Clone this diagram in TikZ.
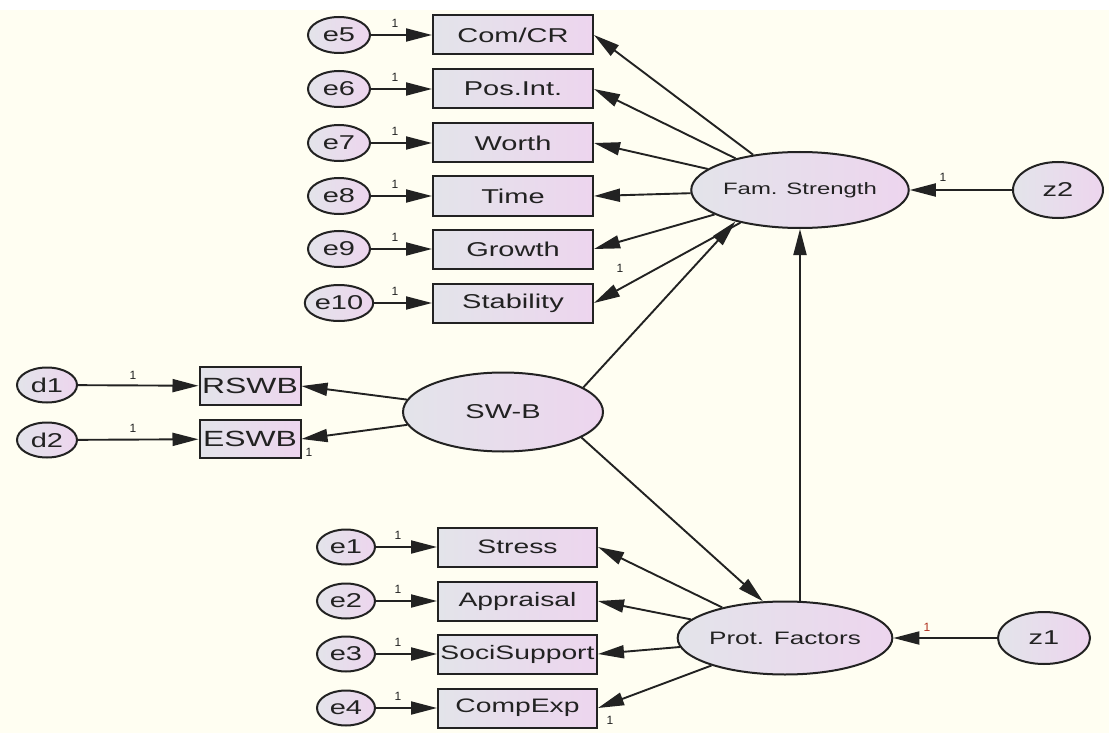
\documentclass[tikz,border=0pt]{standalone}
\usepackage{fontspec}
\setmainfont{Liberation Sans}
\usetikzlibrary{shapes.geometric,arrows.meta}
\definecolor{bg}{HTML}{FFFEF2}
\definecolor{fillL}{HTML}{E3E4EA}
\definecolor{fillR}{HTML}{EDD5EE}
\definecolor{ink}{HTML}{222222}
\definecolor{onered}{HTML}{B0301E}
\newcommand{\mylbl}[2]{\fontsize{#1}{#1}\selectfont\scalebox{1.45}[1]{#2}}
\tikzset{
  obs/.style={rectangle, draw=ink, line width=2pt, left color=fillL, right color=fillR,
    minimum width=160pt, minimum height=39pt, inner sep=0pt, text=ink},
  obsS/.style={obs, minimum width=101pt, minimum height=38pt},
  errv/.style={ellipse, draw=ink, line width=2pt, left color=fillL, right color=fillR,
    minimum width=62pt, minimum height=36pt, inner sep=0pt, text=ink},
  latv/.style={ellipse, draw=ink, line width=2pt, left color=fillL, right color=fillR,
    inner sep=0pt, text=ink},
  arr/.style={draw=ink, line width=1.9pt, -{Triangle[length=26pt,width=13pt]}},
  one/.style={text=ink, font=\fontsize{12}{12}\selectfont, inner sep=0pt},
}
\begin{document}
\begin{tikzpicture}[x=1pt,y=-1pt]
\useasboundingbox (0,0) rectangle (1109,733);
\fill[bg] (0,0) rectangle (1109,733);
\fill[white] (0,0) rectangle (1109,10);

% Family strength indicators
\foreach \n/\y/\t in {5/35/Com\slash CR,6/89/Pos.Int.,7/143/Worth,8/196/Time,9/249/Growth,10/303/Stability}{
  \node[errv] (e\n) at (339,\y) {\mylbl{20}{e\n}};
  \node[obs] (b\n) at (513,\y) {\mylbl{20}{\t}};
  \draw[arr] (e\n) -- (b\n);
  \node[one] (l\n) at (395,\y-12) {1};
}

% Protective factor indicators
\foreach \n/\y/\t in {1/547/Stress,2/601/Appraisal,3/654/SociSupport,4/708/CompExp}{
  \node[errv, minimum width=58pt, minimum height=35pt] (e\n) at (346,\y) {\mylbl{20}{e\n}};
  \node[obs, minimum width=159pt] (b\n) at (517.5,\y) {\mylbl{19.5}{\t}};
  \draw[arr] (e\n) -- (b\n);
  \node[one] (l\n) at (398,\y-12) {1};
}

% Latent variables
\node[latv, minimum width=170pt, minimum height=76pt] (fs) at (800,190) {\mylbl{16.5}{Fam. Strength}};
\node[latv, minimum width=170pt, minimum height=73pt] (pf) at (785,638) {\mylbl{18}{Prot. Factors}};
\node[latv, minimum width=200pt, minimum height=79pt] (sw) at (503,412) {\mylbl{20}{SW-B}};
\node[latv, minimum width=90pt, minimum height=56pt] (z2) at (1058,190) {\mylbl{20}{z2}};
\node[latv, minimum width=92pt, minimum height=52pt] (z1) at (1044,638) {\mylbl{20}{z1}};

% SWB indicators
\node[errv, minimum width=60pt, minimum height=35pt] (d1) at (47,385) {\mylbl{20}{d1}};
\node[errv, minimum width=60pt, minimum height=35pt] (d2) at (47,440) {\mylbl{20}{d2}};
\node[obsS] (rswb) at (250,386) {\mylbl{22}{RSWB}};
\node[obsS] (eswb) at (250,439) {\mylbl{22}{ESWB}};
\draw[arr] (d1) -- (rswb);
\draw[arr] (d2) -- (eswb);
\node[one] (ld1) at (133,375) {1};
\node[one] (ld2) at (133,428) {1};
\draw[arr] (sw) -- (rswb.east);
\draw[arr] (sw) -- (eswb.east);
\node[one] (leswb) at (309,452) {1};

% loadings
\foreach \n in {5,6,7,8,9,10}{ \draw[arr] (fs) -- (b\n.east); }
\foreach \n in {1,2,3,4}{ \draw[arr] (pf) -- (b\n.east); }
\node[one] (lstab) at (620,268) {1};
\node[one] (lcomp) at (610,720) {1};

% structural paths
\draw[arr] (sw.17) -- (fs.206);
\draw[arr] (sw.342) -- (pf.121);
\draw[arr] (fs.south |- pf.north) -- (fs.south);
\draw[arr] (z2) -- (fs);
\draw[arr] (z1) -- (pf);
\node[one] (lz2) at (943,177) {1};
\node[one, text=onered] (lz1) at (927,627) {1};
\end{tikzpicture}
\end{document}
